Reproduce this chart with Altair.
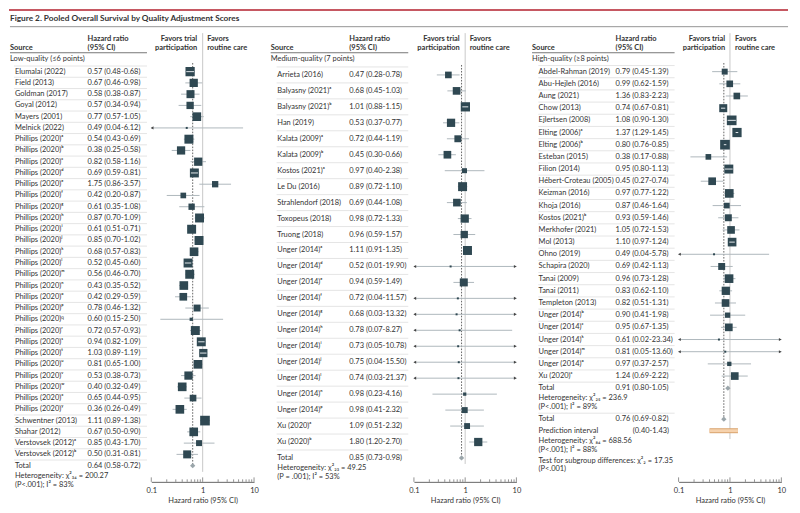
import math
import altair as alt
import pandas as pd

# ---------------- data ----------------
labels_low = ["Elumalai (2022)", "Field (2013)", "Goldman (2017)", "Goyal (2012)", "Mayers (2001)", "Melnick (2022)",
              "Phillips (2020)ᵃ", "Phillips (2020)ᵇ", "Phillips (2020)ᶜ", "Phillips (2020)ᵈ", "Phillips (2020)ᵉ",
              "Phillips (2020)ᶠ", "Phillips (2020)ᵍ", "Phillips (2020)ʰ", "Phillips (2020)ⁱ", "Phillips (2020)ʲ",
              "Phillips (2020)ᵏ", "Phillips (2020)ˡ", "Phillips (2020)ᵐ", "Phillips (2020)ⁿ", "Phillips (2020)ᵒ",
              "Phillips (2020)ᵖ", "Phillips (2020)𐞥", "Phillips (2020)ʳ", "Phillips (2020)ˢ", "Phillips (2020)ᵗ",
              "Phillips (2020)ᵘ", "Phillips (2020)ᵛ", "Phillips (2020)ʷ", "Phillips (2020)ˣ", "Phillips (2020)ʸ",
              "Schwentner (2013)", "Shahar (2012)", "Verstovsek (2012)ᵃ", "Verstovsek (2012)ᵇ"]
hr_low = [0.57, 0.67, 0.58, 0.57, 0.77, 0.49, 0.54, 0.38, 0.82, 0.69, 1.75, 0.42, 0.61, 0.87, 0.61, 0.85, 0.68,
          0.52, 0.56, 0.43, 0.42, 0.78, 0.60, 0.72, 0.94, 1.03, 0.81, 0.53, 0.40, 0.65, 0.36, 1.11, 0.67, 0.85, 0.50]
lo_low = [0.48, 0.46, 0.38, 0.34, 0.57, 0.04, 0.43, 0.25, 0.58, 0.59, 0.86, 0.20, 0.35, 0.70, 0.51, 0.70, 0.57,
          0.45, 0.46, 0.35, 0.29, 0.46, 0.15, 0.57, 0.82, 0.89, 0.65, 0.38, 0.32, 0.44, 0.26, 0.89, 0.50, 0.43, 0.31]
hi_low = [0.68, 0.98, 0.87, 0.94, 1.05, 6.12, 0.69, 0.58, 1.16, 0.81, 3.57, 0.87, 1.08, 1.09, 0.71, 1.02, 0.83,
          0.60, 0.70, 0.52, 0.59, 1.32, 2.50, 0.93, 1.09, 1.19, 1.00, 0.73, 0.49, 0.95, 0.49, 1.38, 0.90, 1.70, 0.81]
w_low = [3.2, 2.55, 2.4, 2.0, 2.8, 0.15, 3.0, 2.55, 2.55, 3.0, 1.5, 1.2, 1.5, 3.0, 3.0, 3.0, 2.8, 3.0, 3.0, 2.8,
         2.2, 1.8, 0.4, 3.0, 3.0, 2.55, 2.8, 2.55, 2.8, 1.65, 2.8, 3.5, 2.8, 1.33, 2.4]
total_low = [0.64, 0.58, 0.72]

labels_med = ["Arrieta (2016)", "Balyasny (2021)ᵃ", "Balyasny (2021)ᵇ", "Han (2019)", "Kalata (2009)ᵃ",
              "Kalata (2009)ᵇ", "Kostos (2021)ᵃ", "Le Du (2016)", "Strahlendorf (2018)", "Toxopeus (2018)",
              "Truong (2018)", "Unger (2014)ᵃ", "Unger (2014)ᵈ", "Unger (2014)ᵉ", "Unger (2014)ᶠ", "Unger (2014)ᵍ",
              "Unger (2014)ʰ", "Unger (2014)ⁱ", "Unger (2014)ʲ", "Unger (2014)ˡ", "Unger (2014)ⁿ", "Unger (2014)ᵖ",
              "Xu (2020)ᵃ", "Xu (2020)ᵇ"]
hr_med = [0.47, 0.68, 1.01, 0.53, 0.72, 0.45, 0.97, 0.89, 0.69, 0.98, 0.96, 1.11, 0.52, 0.94, 0.72, 0.68, 0.78,
          0.73, 0.75, 0.74, 0.98, 0.98, 1.09, 1.80]
lo_med = [0.28, 0.45, 0.88, 0.37, 0.44, 0.30, 0.40, 0.72, 0.44, 0.72, 0.59, 0.91, 0.01, 0.59, 0.04, 0.03, 0.07,
          0.05, 0.04, 0.03, 0.23, 0.41, 0.51, 1.20]
hi_med = [0.78, 1.03, 1.15, 0.77, 1.19, 0.66, 2.38, 1.10, 1.08, 1.33, 1.57, 1.35, 19.90, 1.49, 11.57, 13.32, 8.27,
          10.78, 15.50, 21.37, 4.16, 2.32, 2.32, 2.70]
w_med = [1.65, 2.2, 3.2, 2.55, 1.8, 2.2, 0.93, 3.0, 2.2, 2.55, 2.0, 3.0, 0.15, 2.4, 0.15, 0.15, 0.15, 0.15, 0.15,
         0.15, 0.4, 1.33, 1.3, 2.55]
total_med = [0.85, 0.73, 0.98]

labels_high = ["Abdel-Rahman (2019)", "Abu-Hejleh (2016)", "Aung (2021)", "Chow (2013)", "Ejlertsen (2008)",
               "Elting (2006)ᵃ", "Elting (2006)ᵇ", "Esteban (2015)", "Filion (2014)", "Hébert-Croteau (2005)",
               "Keizman (2016)", "Khoja (2016)", "Kostos (2021)ᵇ", "Merkhofer (2021)", "Mol (2013)", "Ohno (2019)",
               "Schapira (2020)", "Tanai (2009)", "Tanai (2011)", "Templeton (2013)", "Unger (2014)ᵇ",
               "Unger (2014)ᶜ", "Unger (2014)ᵏ", "Unger (2014)ᵐ", "Unger (2014)ᵒ", "Xu (2020)ᶜ"]
hr_high = [0.79, 0.99, 1.36, 0.74, 1.08, 1.37, 0.80, 0.38, 0.95, 0.45, 0.97, 0.87, 0.93, 1.05, 1.10, 0.49, 0.69,
           0.96, 0.83, 0.82, 0.90, 0.95, 0.61, 0.81, 0.97, 1.24]
lo_high = [0.45, 0.62, 0.83, 0.67, 0.90, 1.29, 0.76, 0.17, 0.80, 0.27, 0.77, 0.46, 0.59, 0.72, 0.97, 0.04, 0.42,
           0.73, 0.62, 0.51, 0.41, 0.67, 0.02, 0.05, 0.37, 0.69]
hi_high = [1.39, 1.59, 2.23, 0.81, 1.30, 1.45, 0.85, 0.88, 1.13, 0.74, 1.22, 1.64, 1.46, 1.53, 1.24, 5.78, 1.13,
           1.28, 1.10, 1.31, 1.98, 1.35, 23.34, 13.60, 2.57, 2.22]
w_high = [1.33, 1.65, 1.65, 2.4, 3.5, 3.2, 3.5, 1.2, 3.0, 2.2, 2.8, 1.2, 1.8, 2.2, 2.8, 0.15, 1.8, 2.8, 2.55, 2.2,
          1.05, 2.2, 0.15, 0.15, 0.7, 2.2]
total_high = [0.91, 0.80, 1.05]
total_all = [0.76, 0.69, 0.82]
pred_interval = [0.40, 1.43]

minor_ticks = [0.2, 0.3, 0.4, 0.5, 0.6, 0.7, 0.8, 0.9, 2, 3, 4, 5, 6, 7, 8, 9]
major_ticks = [0.1, 1, 10]

# ---------------- style ----------------
FONT = "Lato"
FS = 7.5
TXT = "#333333"
SQ = "#2f4852"
CI = "#aeb7bc"
H = 475
W = 262
ONE = pd.DataFrame({"k": [0]})


def txt(s, x, y, align="left", bold=False, size=FS, color=TXT):
    return alt.Chart(ONE).mark_text(
        align=align, baseline="middle", font=FONT, fontSize=size,
        fontWeight="bold" if bold else "normal", color=color
    ).encode(x=alt.value(x), y=alt.value(y), text=alt.value(s))


def fmt(h, l, u):
    return f"{h:.2f} ({l:.2f}-{u:.2f})"


def panel(cfg):
    labels, hr, lo, hi, w, tot = cfg["data"]
    xr = cfg["xr"]
    pxdec = (xr[1] - xr[0]) / 2.0
    xs = alt.Scale(type="log", domain=[0.1, 10], range=xr, nice=False)
    ys = alt.Scale(domain=[0, cfg["ydom"]], range=[cfg["y0"], cfg["y1"]], nice=False, zero=False)
    ax = alt.Axis(values=major_ticks, format="~g", title="Hazard ratio (95% CI)", ticks=False, grid=False,
                  labelFlush=False)

    def X(f):
        return alt.X(f, type="quantitative", scale=xs, axis=ax)

    def Y(f):
        return alt.Y(f, type="quantitative", scale=ys, axis=None)

    n = len(labels)
    inside = []
    for h, l, u, ww in zip(hr, lo, hi, w):
        half = math.sqrt(27 * ww) / 2
        inside.append(math.log10(u / h) * pxdec < half - 0.6 and math.log10(h / l) * pxdec < half - 0.6)
    st = pd.DataFrame({"row": list(range(n)), "hr": hr, "lo": lo, "hi": hi, "w": w, "inside": inside})
    st["lo_c"] = st["lo"].clip(lower=0.1)
    st["hi_c"] = st["hi"].clip(upper=10)

    tx = pd.DataFrame({
        "row": list(range(n + 1)),
        "label": labels + ["Total"],
        "ci": [fmt(h, l, u) for h, l, u in zip(hr, lo, hi)] + [fmt(*tot)],
    })
    seps = pd.DataFrame({"r": [i - 0.5 for i in range(n + 1)]})
    totdf = pd.DataFrame({"row": [n], "hr": [tot[0]]})

    layers = []
    layers.append(alt.Chart(seps).mark_rule(color="#dadada", strokeWidth=0.7).encode(
        x=alt.value(cfg["sep"][0]), x2=alt.value(cfg["sep"][1]), y=Y("r")))
    layers.append(alt.Chart(tx).mark_text(align="left", baseline="middle", font=FONT, fontSize=FS, color=TXT).encode(
        x=alt.value(cfg["lx"]), y=Y("row"), text="label:N"))
    layers.append(alt.Chart(tx).mark_text(align="left", baseline="middle", font=FONT, fontSize=FS, color=TXT).encode(
        x=alt.value(cfg["hx"]), y=Y("row"), text="ci:N"))
    layers.append(alt.Chart(pd.DataFrame({"v": [1.0]})).mark_rule(color="#c9c9c9", strokeWidth=1).encode(
        x=X("v"), y=alt.value(24), y2=alt.value(cfg["one_bottom"])))
    layers.append(alt.Chart(pd.DataFrame({"v": [cfg["pooled"]]})).mark_rule(
        color="#666666", strokeWidth=1, strokeDash=[1.6, 1.4]).encode(
        x=X("v"), y=alt.value(cfg["dot_top"]), y2=alt.value(cfg["dot_bottom"])))
    layers.append(alt.Chart(st).mark_rule(color=CI, strokeWidth=1).encode(x=X("lo_c"), x2="hi_c", y=Y("row")))
    layers.append(alt.Chart(st).mark_square(filled=True, color=SQ, opacity=1).encode(
        x=X("hr"), y=Y("row"),
        size=alt.Size("w:Q", scale=alt.Scale(domain=[0, 4], range=[0, 108]), legend=None)))
    layers.append(alt.Chart(st).transform_filter("datum.inside").mark_rule(color="#e4e9ec", strokeWidth=1).encode(
        x=X("lo"), x2="hi", y=Y("row")))
    layers.append(alt.Chart(st).transform_filter("datum.lo < 0.1").mark_point(
        shape="triangle-left", filled=True, size=10, color="#444444", opacity=1).encode(
        x=alt.X(datum=0.104, type="quantitative", scale=xs, axis=ax), y=Y("row")))
    layers.append(alt.Chart(st).transform_filter("datum.hi > 10").mark_point(
        shape="triangle-right", filled=True, size=10, color="#444444", opacity=1).encode(
        x=alt.X(datum=9.5, type="quantitative", scale=xs, axis=ax), y=Y("row")))
    layers.append(alt.Chart(totdf).mark_point(shape="diamond", filled=True, color="#9aa5aa", size=28, opacity=1).encode(
        x=X("hr"), y=Y("row")))
    layers.append(alt.Chart(pd.DataFrame({"v": minor_ticks})).mark_rule(color="#777777", strokeWidth=0.8).encode(
        x=X("v"), y=alt.value(H - 2.5), y2=alt.value(H)))
    layers.append(alt.Chart(pd.DataFrame({"v": major_ticks})).mark_rule(color="#777777", strokeWidth=0.8).encode(
        x=X("v"), y=alt.value(H - 4.5), y2=alt.value(H)))

    hx0 = cfg["src"]
    one_px = cfg["one_px"]
    layers += [
        txt("Source", hx0, 38.7, bold=True),
        txt("Hazard ratio", cfg["hx"], 29.7, bold=True),
        txt("(95% CI)", cfg["hx"], 38.7, bold=True),
        txt("Favors trial", one_px - 5.5, 29.7, align="right", bold=True),
        txt("participation", one_px - 5.5, 38.7, align="right", bold=True),
        txt("Favors", one_px + 4.5, 29.7, bold=True),
        txt("routine care", one_px + 4.5, 38.7, bold=True),
        alt.Chart(ONE).mark_rule(color="#555555", strokeWidth=0.8).encode(
            x=alt.value(hx0), x2=alt.value(cfg["sep"][1]), y=alt.value(43.7)),
        txt(cfg["section"], hx0, 50.3),
    ]
    for s, y in cfg["foot"]:
        layers.append(txt(s, cfg["lx"], y))
    layers += cfg.get("extra", [])
    return alt.layer(*layers).properties(width=W, height=H)


# ---------------- panels ----------------
p1 = panel(dict(
    data=(labels_low, hr_low, lo_low, hi_low, w_low, total_low),
    xr=[142, 245.3], one_px=193.7, ydom=35, y0=62.7, y1=458.7,
    src=0, lx=5, hx=78, sep=[4, 137.7], section="Low-quality (≤6 points)",
    pooled=total_low[0], dot_top=54, dot_bottom=459, one_bottom=465,
    foot=[("Heterogeneity: χ²₃₄ = 200.27", 468.7), ("(P<.001); I² = 83%", 477.7)],
    extra=[
        alt.Chart(ONE).mark_rule(color="#b3202e", strokeWidth=1.5).encode(
            x=alt.value(-1), x2=alt.value(782), y=alt.value(0.8)),
        txt("Figure 2. Pooled Overall Survival by Quality Adjustment Scores", 0, 9.6, bold=True, size=8.3),
        alt.Chart(ONE).mark_rule(color="#8a8a8a", strokeWidth=0.9).encode(
            x=alt.value(0), x2=alt.value(782), y=alt.value(17.5)),
    ],
))

p2 = panel(dict(
    data=(labels_med, hr_med, lo_med, hi_med, w_med, total_med),
    xr=[144, 247], one_px=195.5, ydom=24, y0=66, y1=451,
    src=0, lx=6.7, hx=79, sep=[6, 138.3], section="Medium-quality (7 points)",
    pooled=total_med[0], dot_top=56, dot_bottom=451, one_bottom=457,
    foot=[("Heterogeneity: χ²₂₃ = 49.25", 461.3), ("(P = .001); I² = 53%", 470.3)],
))

ys3 = alt.Scale(domain=[0, 26], range=[62.7, 380.9], nice=False, zero=False)
xs3 = alt.Scale(type="log", domain=[0.1, 10], range=[148, 251.3], nice=False)
ax3 = alt.Axis(values=major_ticks, format="~g", title="Hazard ratio (95% CI)", ticks=False, grid=False,
               labelFlush=False)
overall = pd.DataFrame({"row": [28.54], "hr": [total_all[0]]})
pred = pd.DataFrame({"row": [29.49], "lo": [pred_interval[0]], "hi": [pred_interval[1]]})
extra3 = [
    alt.Chart(ONE).mark_rule(color="#dadada", strokeWidth=0.7).encode(
        x=alt.value(7), x2=alt.value(144), y=alt.value(406)),
    alt.Chart(overall).mark_text(align="left", baseline="middle", font=FONT, fontSize=FS, color=TXT).encode(
        x=alt.value(7.3), y=alt.Y("row:Q", scale=ys3, axis=None), text=alt.value("Total")),
    alt.Chart(overall).mark_text(align="left", baseline="middle", font=FONT, fontSize=FS, color=TXT).encode(
        x=alt.value(84.7), y=alt.Y("row:Q", scale=ys3, axis=None),
        text=alt.value(fmt(*total_all))),
    alt.Chart(pred).mark_text(align="left", baseline="middle", font=FONT, fontSize=FS, color=TXT).encode(
        x=alt.value(7.3), y=alt.Y("row:Q", scale=ys3, axis=None), text=alt.value("Prediction interval")),
    alt.Chart(pred).mark_text(align="left", baseline="middle", font=FONT, fontSize=FS, color=TXT).encode(
        x=alt.value(102), y=alt.Y("row:Q", scale=ys3, axis=None),
        text=alt.value(f"({pred_interval[0]:.2f}-{pred_interval[1]:.2f})")),
    alt.Chart(overall).mark_point(shape="diamond", filled=True, color="#9aa5aa", size=28, opacity=1).encode(
        x=alt.X("hr:Q", scale=xs3, axis=ax3), y=alt.Y("row:Q", scale=ys3, axis=None)),
    alt.Chart(pred).mark_rule(color="#d9a46e", strokeWidth=5, strokeCap="butt").encode(
        x=alt.X("lo:Q", scale=xs3, axis=ax3), x2="hi:Q", y=alt.Y("row:Q", scale=ys3, axis=None)),
    alt.Chart(pred).mark_rule(color="#f6d2ad", strokeWidth=3, strokeCap="butt").encode(
        x=alt.X("lo:Q", scale=xs3, axis=ax3), x2="hi:Q", y=alt.Y("row:Q", scale=ys3, axis=None)),
]
p3 = panel(dict(
    data=(labels_high, hr_high, lo_high, hi_high, w_high, total_high),
    xr=[148, 251.3], one_px=200.3, ydom=26, y0=62.7, y1=380.9,
    src=0.7, lx=7.3, hx=84.7, sep=[7, 144], section="High-quality (≥8 points)",
    pooled=total_all[0], dot_top=54, dot_bottom=412, one_bottom=432,
    foot=[("Heterogeneity: χ²₂₅ = 236.9", 390.3), ("(P<.001); I² = 89%", 399.3),
          ("Heterogeneity: χ²₈₄ = 688.56", 433.6), ("(P<.001); I² = 88%", 442.6),
          ("Test for subgroup differences: χ²₂ = 17.35", 453.7), ("(P<.001)", 462.5)],
    extra=extra3,
))

chart = alt.hconcat(p1, p2, p3, spacing=0, bounds="flush").properties(padding=0).configure_view(
    stroke=None
).configure_axis(
    domainColor="#666666", domainWidth=1, labelFont=FONT, labelFontSize=FS, labelColor=TXT,
    titleFont=FONT, titleFontSize=FS, titleColor=TXT, titleFontWeight="normal",
    labelPadding=4.5, titlePadding=2.5,
)

chart.save("out.html", embed_options={"renderer": "svg", "actions": False})
